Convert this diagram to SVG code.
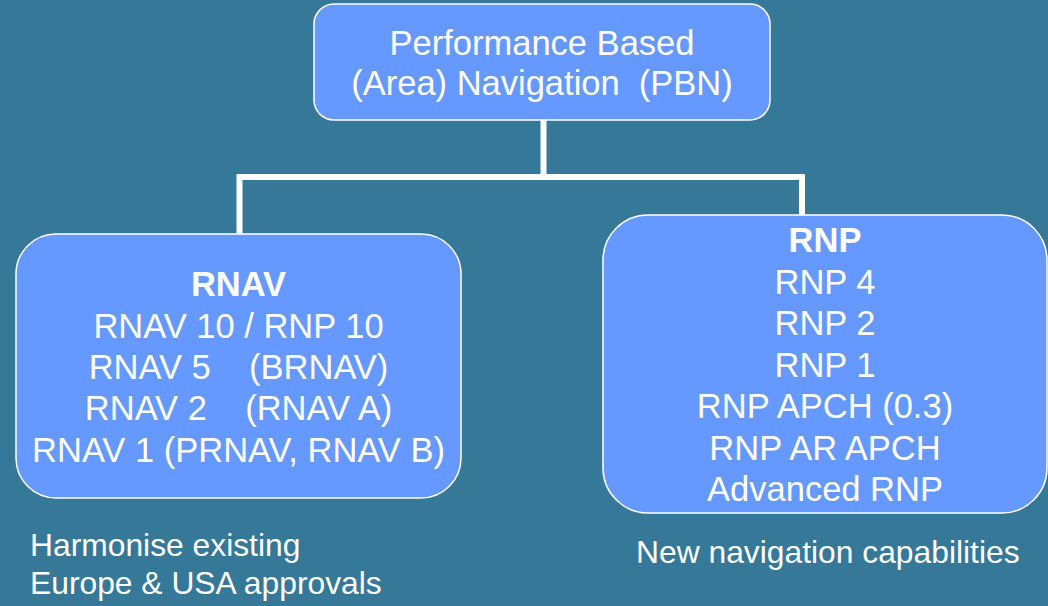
<svg xmlns="http://www.w3.org/2000/svg" width="1048" height="606" viewBox="0 0 1048 606">
  <style>
    .box { fill: #6699ff; stroke: #ffffff; stroke-width: 1.5; }
    .t { font-family: "Liberation Sans", Arial, sans-serif; fill: #ffffff; text-anchor: middle; white-space: pre; }
    .head { font-size: 34.5px; }
    .item { font-size: 34.5px; }
    .bold { font-weight: bold; }
    .note { font-family: "Liberation Sans", Arial, sans-serif; fill: #ffffff; font-size: 31.8px; }
    .link { fill: none; stroke: #ffffff; stroke-width: 6; stroke-linejoin: miter; stroke-linecap: butt; }
  </style>

  <rect width="1048" height="606" fill="#357898"/>

  <!-- tree connectors -->
  <g id="connectors">
    <line class="link" x1="543.5" y1="120" x2="543.5" y2="177"/>
    <polyline class="link" points="239.5,234 239.5,177 802,177 802,215"/>
  </g>

  <!-- root node -->
  <g id="node-pbn">
    <rect class="box" x="314" y="4" width="456" height="116" rx="20" ry="20"/>
    <text class="t head" x="542" y="54.5">Performance Based</text>
    <text class="t head" x="542" y="95">(Area) Navigation  (PBN)</text>
  </g>

  <!-- RNAV branch -->
  <g id="node-rnav">
    <rect class="box" x="16" y="234" width="445" height="264" rx="40" ry="40"/>
    <text class="t item bold" x="238.5" y="296">RNAV</text>
    <text class="t item" x="238.5" y="337.5">RNAV 10 / RNP 10</text>
    <text class="t item" x="238.5" y="379">RNAV 5    (BRNAV)</text>
    <text class="t item" x="238.5" y="420">RNAV 2    (RNAV A)</text>
    <text class="t item" x="238.5" y="461.5">RNAV 1 (PRNAV, RNAV B)</text>
  </g>

  <!-- RNP branch -->
  <g id="node-rnp">
    <rect class="box" x="603" y="215" width="444" height="298" rx="45" ry="45"/>
    <text class="t item bold" x="825" y="252">RNP</text>
    <text class="t item" x="825" y="294">RNP 4</text>
    <text class="t item" x="825" y="335">RNP 2</text>
    <text class="t item" x="825" y="376.5">RNP 1</text>
    <text class="t item" x="825" y="418">RNP APCH (0.3)</text>
    <text class="t item" x="825" y="459.5">RNP AR APCH</text>
    <text class="t item" x="825" y="501">Advanced RNP</text>
  </g>

  <!-- captions under the branches -->
  <g id="caption-rnav">
    <text class="note" x="30" y="556">Harmonise existing</text>
    <text class="note" x="30" y="594">Europe &amp; USA approvals</text>
  </g>
  <g id="caption-rnp">
    <text class="note" x="636" y="563">New navigation capabilities</text>
  </g>
</svg>
